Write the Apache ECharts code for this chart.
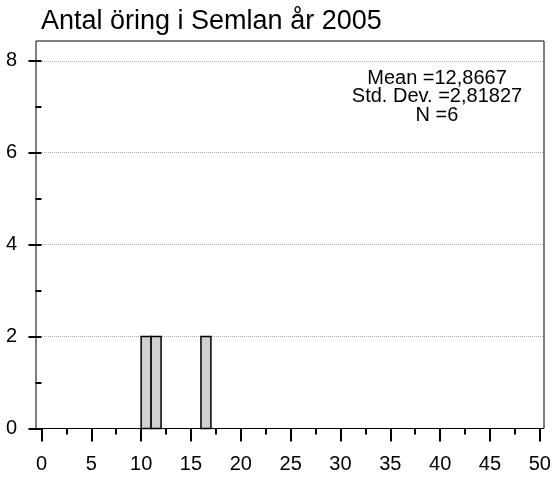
<!DOCTYPE html>
<html lang="sv">
<head>
<meta charset="UTF-8">
<title>Antal öring i Semlan år 2005</title>
<script src="https://cdn.jsdelivr.net/npm/echarts@6/dist/echarts.min.js"></script>
<style>
  html, body { margin: 0; padding: 0; background: #fff; }
  #main { width: 555px; height: 477px; }
</style>
</head>
<body>
<div id="main"></div>
<script type="text/javascript">
// histogram bins (start, end) and counts
var binStart = [10, 11, 16];
var binEnd = [11, 12, 17];
var counts = [2, 2, 2];

var xTicks = [0, 5, 10, 15, 20, 25, 30, 35, 40, 45, 50];
var xMinorTicks = [2.5, 7.5, 12.5, 17.5, 22.5, 27.5, 32.5, 37.5, 42.5, 47.5];
var yTicks = [0, 2, 4, 6, 8];
var yMinorTicks = [1, 3, 5, 7];

var statsText = ['Mean =12,8667', 'Std. Dev. =2,81827', 'N =6'];

var bars = [];
for (var i = 0; i < counts.length; i++) {
    bars.push([binStart[i], binEnd[i], counts[i]]);
}

var font = 'Liberation Sans';
var xMin = -0.55, xMax = 50.42;
var yMin = 0, yMax = 8.43;

var chart = echarts.init(document.getElementById('main'));

chart.setOption({
    animation: false,
    title: [{
        text: 'Antal öring i Semlan år 2005',
        left: 41, top: 8, padding: 0,
        textStyle: { fontFamily: font, fontSize: 27, fontWeight: 'normal', color: '#000' }
    }, {
        // stats box
        text: statsText.join('\n'),
        left: 437, top: 69, padding: 0,
        textAlign: 'center',
        textStyle: { fontFamily: font, fontSize: 20, fontWeight: 'normal', color: '#000', lineHeight: 18.5 }
    }],
    // the frame around the plot
    grid: {
        left: 36, right: 11, top: 41, bottom: 48.5,
        show: true, borderColor: '#000', borderWidth: 1
    },
    xAxis: [{
        type: 'value', min: xMin, max: xMax,
        axisLine: { show: false },
        axisTick: { show: true, customValues: xTicks, length: 13, lineStyle: { color: '#000', width: 2 } },
        axisLabel: { customValues: xTicks, margin: 26, fontFamily: font, fontSize: 20, color: '#000' },
        splitLine: { show: false }
    }, {
        type: 'value', min: xMin, max: xMax, position: 'bottom',
        axisLine: { show: false },
        axisTick: { show: true, customValues: xMinorTicks, length: 6, lineStyle: { color: '#000', width: 2 } },
        axisLabel: { show: false },
        splitLine: { show: false }
    }],
    yAxis: [{
        type: 'value', min: yMin, max: yMax, interval: 2,
        axisLine: { show: false },
        axisTick: { show: true, customValues: yTicks, length: 13, lineStyle: { color: '#000', width: 2 } },
        axisLabel: { customValues: yTicks, margin: 19, padding: [6, 0, 0, 0], fontFamily: font, fontSize: 20, color: '#000' },
        splitLine: { show: true, showMinLine: false, showMaxLine: true, lineStyle: { color: '#aaa', type: 'dotted', width: 1 } }
    }, {
        type: 'value', min: yMin, max: yMax, position: 'left',
        axisLine: { show: false },
        axisTick: { show: true, customValues: yMinorTicks, length: 6, lineStyle: { color: '#000', width: 2 } },
        axisLabel: { show: false },
        splitLine: { show: false }
    }],
    series: [{
        type: 'custom',
        xAxisIndex: 0, yAxisIndex: 0,
        data: bars,
        renderItem: function (params, api) {
            var p0 = api.coord([api.value(0), 0]);
            var p1 = api.coord([api.value(1), api.value(2)]);
            return {
                type: 'rect',
                shape: { x: p0[0], y: p1[1], width: p1[0] - p0[0], height: p0[1] - p1[1] },
                style: { fill: '#d0d0d0', stroke: '#000', lineWidth: 1.5 }
            };
        }
    }]
});
</script>
</body>
</html>
